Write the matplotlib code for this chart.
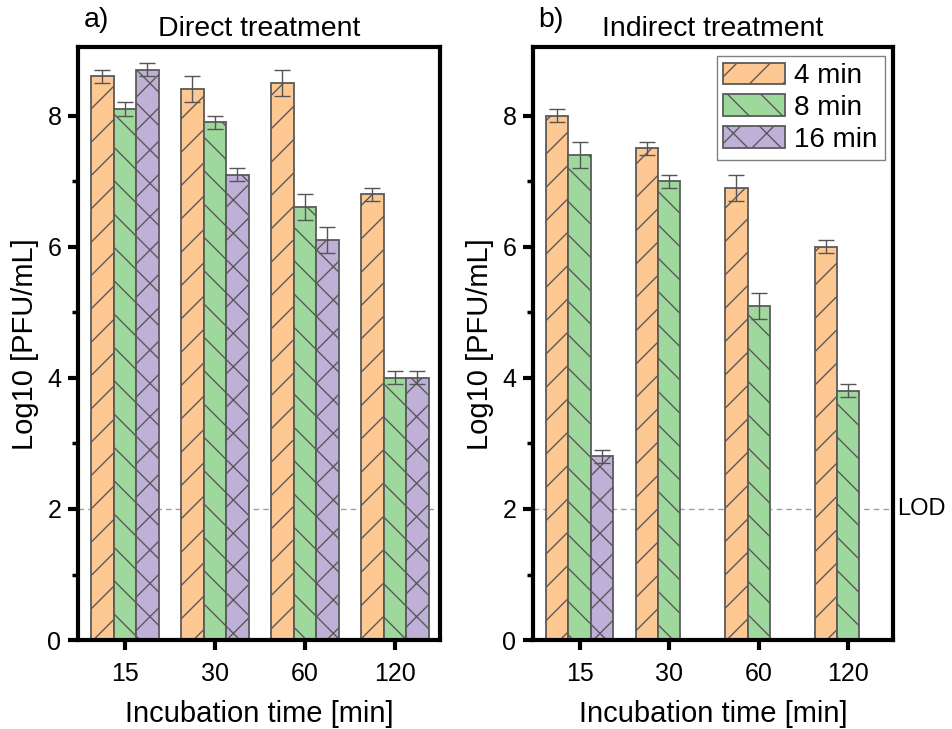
import matplotlib.pyplot as plt
import numpy as np

plt.rcParams['font.family'] = ['Liberation Sans', 'DejaVu Sans']
plt.rcParams['hatch.color'] = '#555555'
plt.rcParams['hatch.linewidth'] = 1.0

# data
categories = ['15', '30', '60', '120']
series = ['4 min', '8 min', '16 min']

direct_4 = [8.6, 8.4, 8.5, 6.8]
direct_8 = [8.1, 7.9, 6.6, 4.0]
direct_16 = [8.7, 7.1, 6.1, 4.0]
direct_4_err = [0.1, 0.2, 0.2, 0.1]
direct_8_err = [0.1, 0.1, 0.2, 0.1]
direct_16_err = [0.1, 0.1, 0.2, 0.1]

indirect_4 = [8.0, 7.5, 6.9, 6.0]
indirect_8 = [7.4, 7.0, 5.1, 3.8]
indirect_16 = [2.8, np.nan, np.nan, np.nan]
indirect_4_err = [0.1, 0.1, 0.2, 0.1]
indirect_8_err = [0.2, 0.1, 0.2, 0.1]
indirect_16_err = [0.1, np.nan, np.nan, np.nan]

lod = 2

colors = ['#fdc892', '#9fd89d', '#bfb0d8']
hatches = ['/', '\\', 'x']


def draw_panel(ax, vals, errs, title, letter):
    x = np.arange(len(categories))
    w = 0.25
    ax.axhline(lod, color='#a0a0a0', ls=(0, (4, 3)), lw=1, zorder=0)
    for i in range(3):
        ax.bar(x + (i - 1) * w, vals[i], w, color=colors[i], hatch=hatches[i],
               edgecolor='#5a5a5a', linewidth=1.3, label=series[i], zorder=2)
        ax.errorbar(x + (i - 1) * w, vals[i], yerr=errs[i], fmt='none',
                    ecolor='#555555', elinewidth=1, capsize=6, capthick=1, zorder=3)
    ax.set_xlim(-0.52, 3.5)
    ax.set_ylim(0, 9.04)
    ax.set_xticks(x)
    ax.set_xticklabels(categories)
    ax.set_yticks([0, 2, 4, 6, 8])
    ax.set_yticks([1, 3, 5, 7], minor=True)
    ax.tick_params(axis='both', which='major', direction='out', length=7, width=3,
                   labelsize=18, pad=5)
    ax.tick_params(axis='x', which='major', pad=9)
    ax.tick_params(axis='y', which='minor', direction='out', length=4, width=2.5)
    for sp in ax.spines.values():
        sp.set_linewidth(3)
    ax.set_xlabel('Incubation time [min]', fontsize=21, labelpad=10)
    ax.set_ylabel('Log10 [PFU/mL]', fontsize=21, labelpad=6)
    ax.set_title(title, fontsize=20.5, pad=8)
    ax.text(0.015, 1.025, letter, transform=ax.transAxes, fontsize=20.5,
            ha='left', va='bottom')


fig = plt.figure(figsize=(9.52, 7.29), dpi=100)
ax1 = fig.add_axes([0.082, 0.122, 0.380, 0.813])
ax2 = fig.add_axes([0.560, 0.122, 0.378, 0.813])

draw_panel(ax1, [direct_4, direct_8, direct_16],
           [direct_4_err, direct_8_err, direct_16_err], 'Direct treatment', 'a)')
draw_panel(ax2, [indirect_4, indirect_8, indirect_16],
           [indirect_4_err, indirect_8_err, indirect_16_err], 'Indirect treatment', 'b)')

ax2.text(1.012, lod, 'LOD', transform=ax2.get_yaxis_transform(), fontsize=17,
         ha='left', va='center')

leg = ax2.legend(loc='upper right', fontsize=20, handlelength=2.2, handleheight=0.8,
                 borderpad=0.25, labelspacing=0.2, handletextpad=0.35,
                 borderaxespad=0.3, fancybox=False, framealpha=1, edgecolor='#808080')
leg.get_frame().set_linewidth(1)

fig.savefig('out.png', dpi=100)
